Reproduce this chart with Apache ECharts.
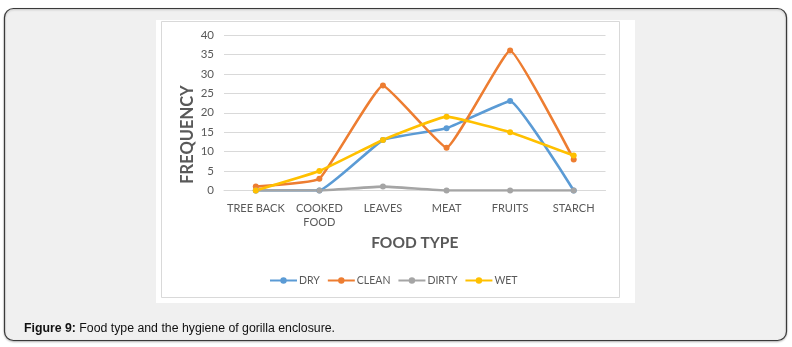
<!DOCTYPE html>
<html>
<head>
<meta charset="utf-8">
<script src="https://cdn.jsdelivr.net/npm/echarts@6/dist/echarts.min.js"></script>
<style>
  html, body { margin: 0; padding: 0; background: #ffffff; }
  #chart { width: 792px; height: 347px; }
</style>
</head>
<body>
<div id="chart"></div>
<script>
// Food categories along the x axis
const foodTypes = ['TREE BACK', 'COOKED\nFOOD', 'LEAVES', 'MEAT', 'FRUITS', 'STARCH'];

// Frequency counts per hygiene condition
const dry   = [0, 0, 13, 16, 23, 0];
const clean = [1, 3, 27, 11, 36, 8];
const dirty = [0, 0, 1, 0, 0, 0];
const wet   = [0, 5, 13, 19, 15, 9];

const seriesNames  = ['DRY', 'CLEAN', 'DIRTY', 'WET'];
const seriesColors = ['#5b9bd5', '#ed7d31', '#a5a5a5', '#ffc000'];
const seriesData   = [dry, clean, dirty, wet];

const font = 'Lato, "Open Sans", sans-serif';
const textGray = '#595959';

const chart = echarts.init(document.getElementById('chart'), null, { renderer: 'canvas' });

chart.setOption({
  backgroundColor: '#ffffff',
  animation: false,
  color: seriesColors,
  graphic: [
    { type: 'rect', z: -10, silent: true,
      shape: { x: 4.5, y: 8.5, width: 782, height: 332, r: 9 },
      style: { fill: '#f0f0f0', stroke: '#3a3a3a', lineWidth: 1.2,
               shadowBlur: 2, shadowColor: 'rgba(0,0,0,0.25)', shadowOffsetY: 1 } },
    { type: 'rect', z: -9, silent: true,
      shape: { x: 156, y: 20, width: 479, height: 283 },
      style: { fill: '#ffffff' } },
    { type: 'rect', z: -8, silent: true,
      shape: { x: 161.5, y: 21.5, width: 458, height: 276 },
      style: { fill: 'none', stroke: '#d9d9d9', lineWidth: 1 } },
    // vertical axis title
    { type: 'text', silent: true, x: 187.5, y: 134.5, rotation: Math.PI / 2,
      style: {
        text: 'FREQUENCY',
        font: 'bold 16.5px ' + font,
        fill: textGray,
        align: 'center',
        verticalAlign: 'middle'
      } },
    { type: 'text', silent: true, left: 24, top: 323,
      style: {
        text: '{b|Figure 9:} Food type and the hygiene of gorilla enclosure.',
        font: '12.3px "Liberation Sans", Arial, sans-serif',
        fill: '#111111',
        rich: { b: { fontWeight: 'bold', fontFamily: '"Liberation Sans", Arial, sans-serif', fontSize: 12.3, fill: '#111111' } }
      } }
  ],
  grid: { left: 224, right: 186.5, top: 35, bottom: 156.5, containLabel: false },
  legend: {
    data: seriesNames,
    left: 264,
    top: 270,
    itemWidth: 27,
    itemHeight: 8,
    itemGap: 7,
    textStyle: { color: textGray, fontFamily: font, fontSize: 10.5, padding: [0, 0, 0, -3] }
  },
  xAxis: {
    type: 'category',
    data: foodTypes,
    boundaryGap: true,
    name: 'FOOD TYPE',
    nameLocation: 'middle',
    nameGap: 44,
    nameTextStyle: { color: textGray, fontFamily: font, fontSize: 15.5, fontWeight: 'bold' },
    axisLine: { lineStyle: { color: '#d9d9d9', width: 1 } },
    axisTick: { show: false },
    axisLabel: { color: textGray, fontFamily: font, fontSize: 11, margin: 11, lineHeight: 14, interval: 0 }
  },
  yAxis: {
    type: 'value',
    min: 0,
    max: 40,
    interval: 5,
    axisLine: { show: false },
    axisTick: { show: false },
    axisLabel: { color: textGray, fontFamily: font, fontSize: 11.5, margin: 10 },
    splitLine: { lineStyle: { color: '#d9d9d9', width: 1 } }
  },
  series: seriesNames.map((name, i) => ({
    name: name,
    type: 'line',
    data: seriesData[i],
    smooth: 0.1,
    symbol: 'circle',
    symbolSize: 6,
    lineStyle: { width: 2.6, color: seriesColors[i] },
    itemStyle: { color: seriesColors[i] }
  }))
});
</script>
</body>
</html>
